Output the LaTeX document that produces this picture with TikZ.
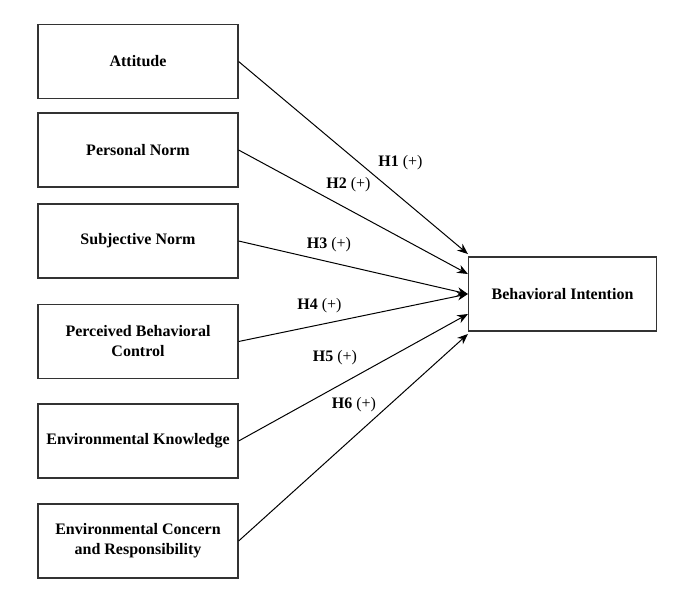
\documentclass[tikz,border=0pt]{standalone}
\usepackage{fontspec}
\setmainfont{Liberation Serif}
\usetikzlibrary{arrows.meta}

\begin{document}
\begin{tikzpicture}[x=0.75pt,y=-0.75pt,
  factor/.style={draw=black!80,line width=0.9pt,minimum width=150pt,minimum height=55.5pt,
    align=center,inner sep=2pt,font=\fontsize{12}{15}\selectfont\bfseries},
  hypo/.style={-{Stealth[length=8pt,width=6.5pt]},line width=0.75pt},
  hlabel/.style={inner sep=1pt,font=\fontsize{12}{15}\selectfont}]
  \useasboundingbox (0,0) rectangle (673,593);
  % Predictors
  \node[factor] (att) at (138,61.5) {Attitude};
  \node[factor] (pn) at (138,150) {Personal Norm};
  \node[factor] (sn) at (138,241) {Subjective Norm};
  \node[factor] (pbc) at (138,341.5) {Perceived Behavioral\\Control};
  \node[factor] (ek) at (138,441) {Environmental Knowledge};
  \node[factor] (ecr) at (138,541) {Environmental Concern\\and Responsibility};
  % Outcome
  \node[factor,minimum width=141pt] (bi) at (562.5,294) {Behavioral Intention};
  % Hypotheses
  \draw[hypo] (att.east) -- ([yshift=30pt]bi.west);
  \draw[hypo] (pn.east) -- ([yshift=15pt]bi.west);
  \draw[hypo] (sn.east) -- (bi.west);
  \draw[hypo] (pbc.east) -- (bi.west);
  \draw[hypo] (ek.east) -- ([yshift=-15pt]bi.west);
  \draw[hypo] (ecr.east) -- ([yshift=-30pt]bi.west);
  % Labels
  \node[hlabel] (h1) at (400.5,163) {\textbf{H1} (+)};
  \node[hlabel] (h2) at (348.5,185) {\textbf{H2} (+)};
  \node[hlabel] (h3) at (329,245) {\textbf{H3} (+)};
  \node[hlabel] (h4) at (319.5,306) {\textbf{H4} (+)};
  \node[hlabel] (h5) at (335,358) {\textbf{H5} (+)};
  \node[hlabel] (h6) at (354,405) {\textbf{H6} (+)};
\end{tikzpicture}
\end{document}
